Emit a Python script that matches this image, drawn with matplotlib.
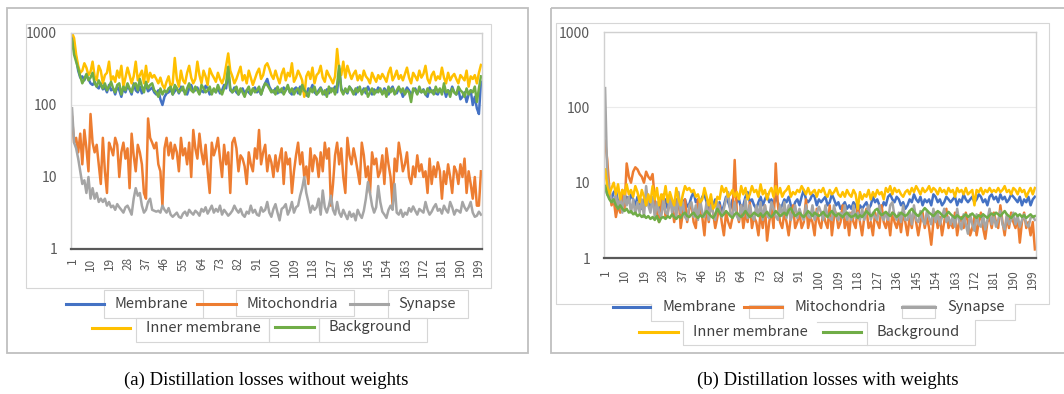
import matplotlib.pyplot as plt
from matplotlib.patches import Rectangle
from matplotlib.ticker import NullLocator

plt.rcParams['font.family'] = ['Noto Sans CJK JP', 'DejaVu Sans']

# x axis: 200 training steps, labelled every 9
steps = list(range(1, 201))
xtick_vals = list(range(1, 200, 9))
ytick_vals = [1, 10, 100, 1000]
names = ['Membrane', 'Mitochondria', 'Synapse', 'Inner membrane', 'Background']
colors = ['#4472C4', '#ED7D31', '#A5A5A5', '#FFC000', '#70AD47']
captions = ['(a) Distillation losses without weights', '(b) Distillation losses with weights']

# (a) without weights
a_membrane = [
    900, 600, 450, 300, 240, 250, 220, 260, 230, 200,
    190, 210, 180, 170, 200, 165, 175, 150, 190, 160,
    170, 140, 180, 160, 130, 175, 150, 185, 165, 140,
    200, 160, 150, 180, 145, 170, 190, 155, 165, 175,
    150, 140, 160, 120, 100, 130, 145, 150, 165, 140,
    155, 170, 145, 180, 160, 150, 140, 170, 190, 155,
    160, 175, 145, 160, 150, 185, 170, 140, 155, 165,
    150, 175, 145, 160, 190, 170, 300, 160, 150, 175,
    150, 140, 160, 170, 145, 160, 150, 140, 165, 175,
    150, 160, 140, 175, 200, 230, 180, 160, 150, 170,
    145, 160, 150, 175, 160, 180, 150, 140, 165, 175,
    145, 180, 160, 150, 135, 170, 160, 190, 150, 140,
    160, 175, 150, 140, 165, 145, 170, 160, 180, 150,
    320, 170, 150, 160, 145, 180, 165, 150, 140, 175,
    160, 150, 170, 145, 180, 155, 140, 165, 150, 175,
    160, 145, 170, 155, 140, 165, 180, 150, 145, 170,
    160, 130, 150, 175, 160, 140, 155, 170, 145, 160,
    150, 165, 140, 130, 175, 150, 160, 145, 140, 165,
    150, 170, 130, 160, 145, 180, 150, 140, 165, 120,
    130, 150, 110, 140, 160, 100, 130, 90, 75, 210,
]
a_mitochondria = [
    68, 30, 35, 22, 40, 15, 45, 25, 12, 75,
    30, 22, 28, 15, 8, 35, 12, 6, 30, 25,
    20, 35, 28, 10, 22, 30, 18, 25, 7, 40,
    20, 12, 28, 22, 15, 6, 5, 65, 35, 30,
    25, 30, 15, 12, 4, 25, 35, 20, 30, 18,
    28, 22, 12, 35, 20, 25, 15, 30, 10, 45,
    25, 18, 40, 22, 15, 28, 12, 6, 30, 20,
    25, 35, 18, 10, 28, 15, 22, 6, 30, 35,
    25, 12, 20, 18, 14, 8, 22, 15, 12, 25,
    18, 45, 15, 22, 28, 12, 20, 16, 10, 20,
    12, 18, 25, 8, 22, 15, 18, 6, 12, 20,
    30, 15, 22, 10, 14, 8, 25, 12, 20, 18,
    10, 22, 12, 30, 18, 25, 4, 8, 20, 30,
    15, 25, 10, 6, 35, 20, 15, 25, 18, 12,
    8, 30, 20, 10, 14, 6, 22, 15, 18, 10,
    12, 20, 8, 25, 15, 10, 4, 18, 12, 30,
    20, 12, 15, 22, 10, 8, 14, 10, 20, 12,
    15, 10, 12, 6, 18, 8, 14, 10, 16, 12,
    5, 12, 8, 15, 10, 6, 14, 12, 8, 15,
    10, 18, 6, 12, 8, 5, 10, 4, 4, 12,
]
a_synapse = [
    90, 30, 25, 18, 12, 8, 9, 6, 10, 5,
    7, 5, 6, 4.5, 5, 4.5, 5, 4, 4.5, 3.8,
    4, 3.5, 4.2, 3.8, 3.5, 3.2, 3.8, 4, 3.5, 3,
    5, 7, 5.5, 6, 4, 3.2, 3.5, 4.5, 5, 3.5,
    3.4, 3.3, 3.4, 3.2, 4, 3.5, 3.2, 3.7, 3, 2.8,
    3, 3.2, 2.8, 2.7, 3.1, 3.3, 2.9, 3.5, 3.2, 3,
    3.4, 3.2, 2.9, 3.6, 3.3, 3.8, 3.1, 3.5, 4, 3.2,
    3.6, 3.3, 4, 3, 3.5, 3.2, 2.9, 3.1, 3.4, 4,
    3.5, 3.2, 3.6, 3, 2.8, 3.3, 3.1, 4, 3.2, 3.5,
    3, 2.9, 3.8, 3.3, 3.5, 4.5, 3.2, 2.8, 3.6, 4.2,
    3.2, 2.5, 3.6, 3.8, 4.2, 3, 3.5, 4.5, 3.2, 3.8,
    4, 5.5, 7, 10, 6, 4.5, 3.2, 4, 3.5, 3.8,
    5, 3, 6.5, 3.8, 3.2, 4, 5.5, 3.5, 3, 4.5,
    3.2, 2.8, 3.5, 3, 2.6, 3.3, 2.8, 3.1, 2.5, 3.5,
    3, 2.7, 3.4, 5, 8.5, 6, 4, 3.2, 3.8, 7.5,
    4.5, 3.3, 3, 2.7, 3.5, 4, 3.5, 8, 3.2, 3,
    3.5, 2.8, 3.2, 3, 3.7, 3.3, 3.9, 3.4, 3, 3.6,
    3.4, 3.2, 4.5, 3.5, 3, 3.3, 3.8, 4.2, 3.4, 3.6,
    3.1, 4, 3.5, 3.2, 4.5, 3.8, 3, 3.5, 3.4, 3.2,
    4.5, 3.8, 3.4, 3.8, 4.5, 3.2, 2.8, 2.9, 3.3, 3,
]
a_inner = [
    1000, 850, 500, 350, 280, 300, 380, 330, 260, 290,
    400, 250, 220, 350, 300, 200, 260, 280, 400, 220,
    250, 210, 300, 240, 350, 180, 240, 330, 260, 200,
    250, 400, 220, 260, 300, 200, 350, 210, 280, 240,
    260, 230, 200, 240, 190, 170, 210, 250, 180, 200,
    450, 230, 180, 300, 220, 200, 280, 350, 240, 200,
    230, 400, 260, 200, 300, 250, 190, 320, 270, 240,
    210, 280, 230, 200, 240, 350, 520, 300, 250, 200,
    230, 280, 340, 220, 260, 200, 300, 240, 190, 230,
    280, 320, 230, 260, 350, 380, 320, 260, 230, 300,
    240, 200, 270, 320, 220, 280, 250, 380, 210, 240,
    300, 260, 220, 130, 250, 290, 230, 330, 200, 260,
    280, 350, 240, 210, 300, 260, 230, 200, 250, 600,
    300, 260, 400, 240, 350, 280, 230, 270, 300, 220,
    260, 220, 300, 250, 230, 200, 280, 240, 210, 260,
    230, 270, 240, 210, 280, 330, 220, 250, 300, 230,
    260, 220, 270, 330, 240, 200, 280, 250, 220, 300,
    240, 270, 350, 230, 200, 260, 290, 220, 250, 230,
    330, 240, 200, 280, 220, 250, 270, 230, 200, 260,
    240, 220, 300, 180, 250, 230, 260, 200, 280, 360,
]
a_background = [
    800, 500, 400, 320, 250, 200, 230, 270, 220, 240,
    280, 200, 180, 220, 190, 170, 200, 160, 180, 210,
    170, 150, 190, 200, 140, 180, 160, 200, 170, 150,
    190, 200, 160, 230, 180, 150, 210, 170, 190, 200,
    160, 150, 130, 170, 140, 160, 150, 170, 180, 140,
    190, 170, 150, 160, 180, 140, 170, 200, 160, 150,
    180, 160, 140, 190, 170, 150, 160, 180, 140, 170,
    150, 190, 160, 140, 170, 200, 340, 170, 150, 160,
    180, 140, 170, 150, 130, 160, 180, 140, 170, 150,
    160, 180, 140, 170, 200, 190, 170, 150, 160, 140,
    180, 150, 170, 140, 160, 190, 150, 170, 140, 160,
    170, 140, 190, 160, 150, 130, 170, 150, 180, 140,
    150, 170, 140, 160, 130, 180, 150, 170, 140, 190,
    350, 160, 140, 170, 150, 180, 160, 140, 170, 150,
    180, 140, 160, 170, 130, 150, 170, 140, 160, 150,
    170, 140, 160, 130, 180, 150, 170, 140, 160, 180,
    150, 170, 140, 160, 150, 110, 170, 160, 140, 180,
    150, 160, 140, 170, 150, 160, 140, 180, 150, 170,
    140, 200, 150, 160, 130, 170, 150, 140, 180, 160,
    150, 130, 170, 140, 160, 150, 180, 110, 170, 250,
]

# (b) with weights
b_membrane = [
    9, 7, 6.5, 6, 7.5, 8, 5.5, 6, 7, 5,
    6.5, 5.5, 7, 6, 5, 6.5, 5.5, 4.5, 6, 5,
    5.5, 4.5, 6, 5, 4.5, 5.5, 4, 5, 6, 4.5,
    5, 5.5, 4.5, 6, 5, 4, 5.5, 6, 4.8, 5.2,
    6.5, 7.5, 5.5, 6, 5, 6.5, 7, 5.5, 4.5, 5.5,
    5, 6, 4.5, 5.5, 4, 5, 6.5, 5.5, 4.5, 6,
    5, 5.5, 6, 4.5, 5, 6.5, 7.5, 5.5, 6, 5,
    4.5, 5.5, 6.5, 5, 6, 7, 5.5, 6, 5, 6.5,
    5.5, 4.5, 5, 6, 5.5, 6.5, 5, 4.5, 5.5, 6,
    5, 6.5, 8, 6, 5.5, 6, 7, 6.5, 5, 6,
    5.5, 6, 6.5, 5, 5.5, 7, 6, 5, 5.5, 4.5,
    5, 5.5, 4.5, 5, 4.5, 5.5, 5, 4, 5, 4.5,
    5, 5.5, 4.5, 5, 6.5, 5.5, 6, 5, 4.5, 5.5,
    5, 6.5, 7, 6, 5.5, 6.5, 6, 5, 5.5, 4.5,
    5, 6, 5.5, 7, 6, 5.5, 6.5, 5, 6, 5.5,
    6, 5, 7, 6.5, 5.5, 6, 5, 5.5, 6.5, 6,
    5.5, 6, 6.5, 5, 6, 5.5, 7, 6, 5.5, 6,
    6.5, 5.5, 6, 7, 6.5, 5.5, 6, 5, 6.5, 7,
    6, 6.5, 5.5, 7, 6, 6.5, 5.5, 6, 7, 6.5,
    6, 5.5, 6.5, 5, 6, 5.5, 6.5, 5, 6, 6.5,
]
b_mitochondria = [
    36, 20, 8, 5, 6, 3.5, 5, 4, 8, 4.5,
    18, 12, 10, 14, 16, 15, 13, 12, 10, 14,
    12, 11, 13, 6, 4, 3, 5, 7, 3.5, 4,
    6, 5, 3, 4.5, 7, 2.5, 4, 6, 3, 4.5,
    5, 3, 2.5, 6, 4, 3.5, 2, 5, 3, 6,
    4, 2.5, 3.5, 5, 3, 2, 4, 3, 2.5, 3.5,
    20, 4, 3, 5, 2.5, 4, 3, 5.5, 2.5, 3.5,
    3, 2, 4, 2.5, 5, 1.7, 3, 4.5, 2.5, 18,
    5, 3, 2.5, 4, 3, 2, 3.5, 5, 2.5, 3,
    4, 2.5, 3, 6, 2.5, 3.5, 3, 2, 4.5, 3,
    2.5, 4, 3, 2.5, 5, 2, 3.5, 4, 2.5, 3,
    5, 2.5, 3.5, 2, 4, 3, 2.5, 5, 3, 2,
    3.5, 4.5, 2.5, 3, 2, 4, 3, 2.5, 5, 3,
    2.5, 3.5, 2, 4, 3, 2.5, 3.5, 2.2, 4, 3,
    2, 3.5, 2.5, 4.5, 3, 2, 3, 4, 2.5, 3.5,
    2.5, 1.5, 3, 4, 2.5, 3.5, 2, 3, 4.5, 2.5,
    3, 2.5, 4, 2, 3, 3.5, 2.5, 4, 3, 2,
    2.5, 3.5, 2, 3, 4, 2.5, 1.8, 3, 3.5, 2.5,
    4, 3, 2.5, 5, 3, 2, 3.5, 2.5, 4, 3,
    2.5, 3.5, 1.6, 3, 4, 2.5, 3, 2, 3, 1.3,
]
b_synapse = [
    180, 12, 8, 6, 5.5, 7, 4.5, 6.5, 4, 7,
    5, 6.5, 4, 6, 3.8, 5.5, 4, 6, 3.5, 9,
    5, 4, 6.5, 3.5, 5.5, 4, 3.5, 6, 4, 3.8,
    6.5, 4, 5.5, 3.5, 7.5, 4, 5.5, 3.5, 3.2, 5,
    5.5, 3.5, 5, 3.2, 6, 4, 3.5, 5.5, 3.2, 5,
    4, 3.2, 5.5, 4.5, 3.5, 4.5, 6, 7.5, 4, 3.6,
    5.5, 3.6, 3.2, 5, 3.6, 6, 3.4, 5, 3.6, 3.2,
    5, 3.6, 5.5, 3.2, 5, 3.6, 3.4, 5.5, 4.5, 3.6,
    3.2, 5, 3.6, 5.5, 3.4, 5, 3.2, 4, 5, 3.4,
    4.5, 3.6, 3.2, 5, 3.6, 3.4, 5, 3.2, 4, 4.8,
    4, 3.2, 5, 3.6, 3.4, 3.2, 5, 3.6, 3.2, 4,
    3.4, 5, 3.2, 4, 3.2, 5, 3.4, 4, 3.2, 4.5,
    3.2, 4, 5, 3.2, 4, 3.5, 3.2, 5, 3.6, 3.2,
    4, 3.2, 5, 5.5, 3.6, 3.2, 4, 3, 5, 3.2,
    3.2, 4.2, 2.8, 5, 3.2, 3, 4.2, 3.2, 2.8, 4.2,
    3.4, 2.8, 4.5, 3, 4, 2.8, 3.5, 4.5, 3, 3.5,
    2.8, 3.6, 2.6, 4.5, 3, 2.4, 3.8, 2.8, 2.1, 3.8,
    2.8, 2.3, 3.8, 2.8, 2.6, 3.8, 2.4, 3.2, 4.5, 2.8,
    3.6, 2.6, 3.2, 4.2, 2.8, 2.4, 3.8, 2.8, 3.2, 4,
    2.8, 3.6, 2.6, 3.2, 3.8, 2.8, 2.6, 3.4, 3.6, 3.2,
]
b_inner = [
    15, 9, 7, 8.5, 10, 7, 9.5, 6, 8, 7,
    9.5, 7, 8, 6.5, 9, 7.5, 5.5, 8, 6.5, 5,
    7, 5.5, 9, 6, 8.5, 5, 7, 6, 9, 5.5,
    7.5, 6, 5, 8.5, 6, 5, 7, 9, 8, 8.5,
    7.5, 8, 6.5, 7, 5.5, 6, 8.5, 6.5, 5, 7,
    4.5, 5, 6.5, 6, 9, 7.5, 8.5, 6.5, 7, 8,
    6.5, 7.5, 6, 9, 7, 8.5, 6, 7, 9, 7.5,
    8, 6.5, 9.5, 7, 8, 6, 7.5, 8.5, 6.5, 9,
    7, 8.5, 6.5, 7.5, 8, 9, 6.5, 7.5, 7, 8,
    7.5, 9, 8, 7, 8.5, 7, 7.5, 8, 6.5, 8,
    7.5, 8.5, 7, 6.5, 8, 7, 7.5, 8.5, 7, 6.5,
    7.5, 6.5, 8, 7, 6.5, 8, 7, 4.5, 7.5, 6,
    7, 6.5, 8, 6, 7.5, 6.5, 8, 7, 7.5, 6,
    8.5, 7.5, 9, 7, 8.5, 7.5, 8, 7, 6.5, 7.5,
    8, 7, 8.5, 7.5, 9, 8, 7, 8.5, 7.5, 8,
    9, 7.5, 8.5, 8, 7, 8.5, 7.5, 8, 7, 8.5,
    7.5, 8, 6.5, 8.5, 7.5, 8, 7, 8.5, 7, 7.5,
    8, 5, 8, 7.5, 8.5, 7, 8, 7.5, 8.5, 7.5,
    8, 7.5, 8.5, 7.5, 8, 9, 7.5, 8, 7, 8.5,
    8, 7, 8.5, 7.5, 8, 6.5, 7.5, 8.5, 7, 8.5,
]
b_background = [
    9, 7, 6, 5.5, 6, 5, 4.5, 5, 4.5, 4.2,
    4.5, 4, 4.2, 3.8, 4, 3.6, 3.8, 3.5, 3.7, 3.4,
    3.6, 3.3, 3.5, 3.2, 3.6, 3, 3.4, 3.5, 3.3, 3.6,
    3.4, 3.8, 3.5, 3.3, 3.6, 3.4, 3.8, 4, 3.6, 3.5,
    3.8, 4, 3.6, 3.4, 3.7, 3.5, 3.8, 4.2, 3.9, 3.6,
    3.4, 3.8, 4.5, 4, 3.6, 3.8, 4.2, 3.9, 3.6, 3.4,
    3.8, 4, 3.7, 3.5, 3.8, 4.2, 3.8, 3.5, 3.7, 4,
    3.8, 3.6, 3.9, 3.5, 3.8, 4.1, 3.7, 3.5, 3.8, 4.2,
    3.9, 3.6, 3.8, 4, 3.7, 4.3, 4.6, 4, 3.6, 3.8,
    4, 3.7, 3.5, 3.8, 4.2, 3.9, 3.6, 4, 3.8, 3.6,
    3.8, 4.1, 3.7, 3.5, 3.9, 4.2, 3.8, 3.6, 3.9, 3.7,
    3.5, 3.8, 4, 3.7, 3.5, 3.6, 3.8, 3.4, 3.7, 3.5,
    3.8, 4.2, 3.9, 3.6, 3.8, 4.3, 4.5, 4, 3.7, 3.9,
    4.1, 3.8, 3.6, 4, 3.8, 3.5, 3.7, 4, 3.8, 3.6,
    3.8, 4.2, 4.5, 4.1, 3.8, 3.6, 3.9, 4.2, 4.6, 4.3,
    4, 3.8, 3.6, 3.9, 4.2, 4, 3.7, 3.5, 3.8, 4.1,
    3.8, 3.6, 3.4, 3.7, 3.5, 3.3, 3.6, 3.8, 3.5, 3.7,
    3.9, 3.6, 3.4, 3.7, 3.5, 3.8, 3.6, 3.4, 3.7, 3.9,
    3.7, 4, 3.8, 3.6, 3.9, 4.2, 3.8, 3.6, 3.4, 3.7,
    3.9, 3.6, 3.8, 3.5, 3.7, 3.4, 3.6, 3.8, 3.5, 3.6,
]

W, H = 1064, 394
fig = plt.figure(figsize=(W / 100, H / 100), dpi=100)


def px_axes(x0, y0, x1, y1):
    # pixel box (top-left origin) -> figure fraction
    return fig.add_axes([x0 / W, 1 - y1 / H, (x1 - x0) / W, (y1 - y0) / H])


def panel(box, series, xpad):
    ax = px_axes(*box)
    for vals, c in zip(series, colors):
        ax.plot(steps, vals, color=c, lw=1.8, solid_joinstyle='round')
    ax.set_yscale('log')
    ax.set_ylim(1, 1000)
    ax.set_xlim(0.5, 200.5)
    ax.yaxis.set_minor_locator(NullLocator())
    ax.set_yticks(ytick_vals)
    ax.set_yticklabels([str(v) for v in ytick_vals])
    ax.set_xticks(xtick_vals)
    ax.set_xticklabels([str(v) for v in xtick_vals], rotation=90, va='top')
    ax.tick_params(axis='y', length=0, pad=10, labelsize=10, labelcolor='#595959')
    ax.tick_params(axis='x', length=0, pad=xpad, labelsize=8.5, labelcolor='#595959')
    ax.grid(axis='y', color='#EBEBEB', lw=0.8)
    ax.set_axisbelow(True)
    for s in ['top', 'right', 'left']:
        ax.spines[s].set_color('#D0D0D0')
        ax.spines[s].set_linewidth(1.0)
    ax.spines['bottom'].set_color('#595959')
    ax.spines['bottom'].set_linewidth(1.6)
    return ax


panel((71, 33, 482, 249), [a_membrane, a_mitochondria, a_synapse, a_inner, a_background], 6)
panel((604, 32, 1036, 258), [b_membrane, b_mitochondria, b_synapse, b_inner, b_background], 8)

# overlay in pixel coordinates for frames, legends and captions
ov = fig.add_axes([0, 0, 1, 1])
ov.set_xlim(0, W)
ov.set_ylim(H, 0)
ov.axis('off')

edge = '#BFBFBF'
light = '#D6D6D6'
ov.add_patch(Rectangle((7, 8), 521, 345, fill=False, ec=edge, lw=1.3))
ov.add_patch(Rectangle((551, 8), 530, 345, fill=False, ec=edge, lw=1.3))

# inner chart-area frames
ov.add_patch(Rectangle((26, 24), 465, 264, fill=False, ec=light, lw=0.8))
ov.plot([651, 556, 556, 1049, 1049, 1015], [304, 304, 23, 23, 304, 304], color=light, lw=0.8)

# left legend boxes
for x0, y0, x1, y1 in [(104, 290, 203, 318), (236, 290, 354, 316), (388, 290, 468, 318),
                       (136, 318, 269, 342), (269, 318, 319, 342), (319, 318, 427, 342)]:
    ov.add_patch(Rectangle((x0, y0), x1 - x0, y1 - y0, fill=False, ec=light, lw=0.8))

# right legend boxes
for x0, y0, x1, y1 in [(749, 305, 783, 318), (902, 305, 935, 318)]:
    ov.add_patch(Rectangle((x0, y0), x1 - x0, y1 - y0, fill=False, ec=light, lw=0.8))
ov.plot([651, 651, 683, 683, 975, 975, 1015, 1015], [304, 321, 321, 345, 345, 320, 320, 304],
        color=light, lw=0.8)
ov.plot([817, 867, 867], [322, 322, 345], color=light, lw=0.8)

# legend keys: (line x0, x1, y, text x)
left_keys = [(66, 104, 304, 115), (197, 236, 304, 247), (350, 388, 304, 398),
             (92, 130, 328, 146), (275, 314, 327, 329)]
right_keys = [(613, 650, 307, 662), (744, 782, 307, 794), (902, 935, 307, 947),
              (639, 678, 332, 693), (823, 861, 332, 877)]
for keys in [left_keys, right_keys]:
    for (x0, x1, y, tx), name, c in zip(keys, names, colors):
        ov.plot([x0, x1], [y, y], color=c, lw=2.2)
        ov.text(tx, y, name, fontsize=10.5, color='#404040', va='center', ha='left')

ov.text(266, 380, captions[0], fontsize=13.5, family='Liberation Serif', ha='center', va='center')
ov.text(828, 380, captions[1], fontsize=13.5, family='Liberation Serif', ha='center', va='center')

fig.savefig('out.png', dpi=100)
